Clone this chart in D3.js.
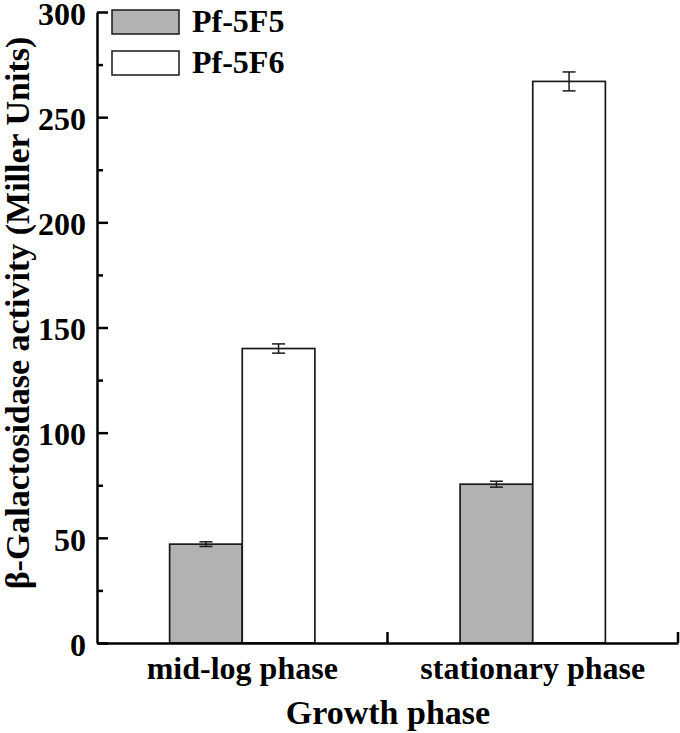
<!DOCTYPE html>
<html>
<head>
<meta charset="utf-8">
<title>beta-Galactosidase activity</title>
<script src="https://d3js.org/d3.v7.min.js"></script>
<style>
  body { margin: 0; background: #fff; }
  text { font-family: "Liberation Serif", "Times New Roman", serif; font-weight: bold; fill: #000; }
</style>
</head>
<body>
<svg id="mainsvg" width="680" height="733"></svg>
<script>
// ---------- data ----------
const phases = ["mid-log phase", "stationary phase"];
const strains = ["Pf-5F5", "Pf-5F6"];
const means = [[47, 140], [75.5, 267]];   // [phase][strain]
const errors = [[1.1, 2.2], [1.4, 4.5]];
const yTicks = [0, 50, 100, 150, 200, 250, 300];
const yMinorTicks = [25, 75, 125, 175, 225, 275];
const fills = ["#b2b2b2", "#ffffff"];

// ---------- layout ----------
const svg = d3.select("#mainsvg");
const plotLeft = 97, plotRight = 678, plotTop = 12, plotBottom = 643;

const x0 = d3.scaleBand().domain(phases).range([plotLeft, plotRight]).paddingInner(0).paddingOuter(0);
const x1 = d3.scaleBand().domain(strains).range([x0.bandwidth() * 0.25, x0.bandwidth() * 0.75]);
const y = d3.scaleLinear().domain([0, 300]).range([plotBottom, plotTop]);

const rows = [];
phases.forEach((p, i) => strains.forEach((s, j) => rows.push({phase: p, strain: s, v: means[i][j], e: errors[i][j], j})));

// bars
svg.append("g").selectAll("rect").data(rows).join("rect")
  .attr("x", d => x0(d.phase) + x1(d.strain))
  .attr("y", d => y(d.v))
  .attr("width", x1.bandwidth())
  .attr("height", d => y(0) - y(d.v))
  .attr("fill", d => fills[d.j])
  .attr("stroke", "#1a1a1a")
  .attr("stroke-width", 1.7);

// error bars
const eb = svg.append("g").attr("stroke", "#1a1a1a").attr("stroke-width", 1.5);
rows.forEach(d => {
  const cx = x0(d.phase) + x1(d.strain) + x1.bandwidth() / 2;
  eb.append("line").attr("x1", cx).attr("x2", cx).attr("y1", y(d.v + d.e)).attr("y2", y(d.v - d.e));
  [d.v + d.e, d.v - d.e].forEach(v => eb.append("line")
    .attr("x1", cx - 6.5).attr("x2", cx + 6.5).attr("y1", y(v)).attr("y2", y(v)));
});

// y axis (ticks point inward)
const yAxis = svg.append("g").attr("transform", `translate(${plotLeft},0)`)
  .call(d3.axisLeft(y).tickValues(yTicks).tickSize(-11).tickPadding(11).tickSizeOuter(0));
svg.append("g").attr("transform", `translate(${plotLeft},0)`)
  .call(d3.axisLeft(y).tickValues(yMinorTicks).tickSize(-6).tickFormat("").tickSizeOuter(0))
  .call(g => g.select(".domain").remove());
yAxis.selectAll("text").style("font-size", "32px").attr("dy", "0.38em");

// x axis: labels at centres, ticks at category boundaries
const xAxis = svg.append("g").attr("transform", `translate(0,${plotBottom})`)
  .call(d3.axisBottom(x0).tickSize(0).tickPadding(36).tickSizeOuter(0));
xAxis.selectAll("text").style("font-size", "32px").attr("dy", "0");
xAxis.append("g").selectAll("line").data(phases).join("line")
  .attr("x1", d => x0(d) + x0.bandwidth()).attr("x2", d => x0(d) + x0.bandwidth())
  .attr("y1", 0).attr("y2", -11);

svg.selectAll(".domain, .tick line").attr("stroke", "#000").attr("stroke-width", 2.5);
xAxis.selectAll("line").attr("stroke", "#000").attr("stroke-width", 2.5);

// axis titles
svg.append("text").attr("x", 388).attr("y", 724)
  .attr("text-anchor", "middle").style("font-size", "34px").text("Growth phase");
svg.append("text").attr("transform", "translate(29,313) rotate(-90)")
  .attr("text-anchor", "middle").style("font-size", "34px")
  .text("β-Galactosidase activity (Miller Units)");

// legend
const legend = svg.append("g");
strains.forEach((s, j) => {
  const ly = 10 + j * 41;
  legend.append("rect").attr("x", 112).attr("y", ly).attr("width", 67).attr("height", 24)
    .attr("fill", fills[j]).attr("stroke", "#1a1a1a").attr("stroke-width", 1.5);
  legend.append("text").attr("x", 192).attr("y", ly + 22).style("font-size", "32px").text(s);
});
</script>
</body>
</html>
